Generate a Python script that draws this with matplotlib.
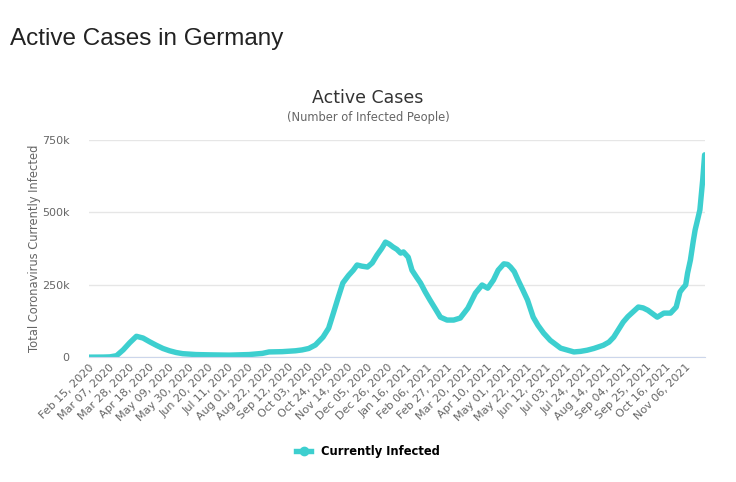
import datetime as dt
import matplotlib
matplotlib.use("Agg")
import matplotlib.pyplot as plt
import matplotlib.dates as mdates
from matplotlib.lines import Line2D
from matplotlib.ticker import FuncFormatter

# values (active cases)
dates = [
    "2020-02-15", "2020-03-01", "2020-03-08", "2020-03-15", "2020-03-22",
    "2020-03-29", "2020-04-05", "2020-04-12", "2020-04-19", "2020-04-26",
    "2020-05-03", "2020-05-10", "2020-05-17", "2020-05-24", "2020-06-07",
    "2020-06-21", "2020-07-12", "2020-08-02", "2020-08-16", "2020-08-23",
    "2020-09-06", "2020-09-20", "2020-09-27", "2020-10-04", "2020-10-11",
    "2020-10-19", "2020-10-25", "2020-10-30", "2020-11-04", "2020-11-09",
    "2020-11-15", "2020-11-20", "2020-11-24", "2020-11-29", "2020-12-05",
    "2020-12-10", "2020-12-15", "2020-12-20", "2020-12-24", "2020-12-28",
    "2021-01-01", "2021-01-05", "2021-01-09", "2021-01-12", "2021-01-17",
    "2021-01-21", "2021-01-26", "2021-01-30", "2021-02-04", "2021-02-09",
    "2021-02-15", "2021-02-20", "2021-02-27", "2021-03-06", "2021-03-13",
    "2021-03-21", "2021-03-29", "2021-04-05", "2021-04-11", "2021-04-17",
    "2021-04-22", "2021-04-28", "2021-05-02", "2021-05-05", "2021-05-09",
    "2021-05-13", "2021-05-18", "2021-05-23", "2021-05-29", "2021-06-03",
    "2021-06-09", "2021-06-16", "2021-06-27", "2021-07-11", "2021-07-18",
    "2021-07-25", "2021-08-01", "2021-08-11", "2021-08-17", "2021-08-22",
    "2021-08-27", "2021-09-01", "2021-09-06", "2021-09-11", "2021-09-17",
    "2021-09-22", "2021-09-27", "2021-10-02", "2021-10-07", "2021-10-14",
    "2021-10-21", "2021-10-27", "2021-10-31", "2021-11-03", "2021-11-06",
    "2021-11-08", "2021-11-11", "2021-11-14", "2021-11-16", "2021-11-19",
    "2021-11-21", "2021-11-24", "2021-11-26",
]
active = [
    0, 300, 1000, 5000, 25000,
    50000, 72000, 66000, 53000, 41000,
    30000, 22000, 16000, 12000, 9000,
    8000, 7000, 9000, 13000, 18000,
    19000, 22000, 25000, 30000, 42000,
    69000, 100000, 152000, 205000, 256000,
    282000, 300000, 318000, 314000, 311000,
    325000, 352000, 375000, 397000, 390000,
    380000, 372000, 359000, 363000, 345000,
    300000, 275000, 256000, 225000, 197000,
    165000, 138000, 128000, 128000, 135000,
    169000, 221000, 249000, 238000, 266000,
    300000, 322000, 320000, 311000, 295000,
    266000, 232000, 197000, 138000, 110000,
    83000, 58000, 31000, 18000, 20000,
    24000, 30000, 41000, 52000, 69000,
    95000, 121000, 140000, 155000, 173000,
    170000, 162000, 150000, 138000, 152000,
    152000, 173000, 225000, 238000, 249000,
    290000, 335000, 400000, 439000, 480000,
    508000, 612000, 698000,
]
series_name = "Currently Infected"

x = [dt.datetime.strptime(d, "%Y-%m-%d") for d in dates]
start = dt.datetime(2020, 2, 15)
tick_dates = [start + dt.timedelta(days=21 * i) for i in range(31)]

fig = plt.figure(figsize=(7.36, 4.82), dpi=100)
ax = fig.add_axes([0.121, 0.259, 0.837, 0.451])

color = "#3dcfcf"
ax.plot(x, active, color=color, lw=3.9, solid_joinstyle="round", solid_capstyle="round")

ax.set_xlim(start, dt.datetime(2021, 11, 26, 12))
ax.set_ylim(0, 750000)
ax.set_yticks([0, 250000, 500000, 750000])
ax.yaxis.set_major_formatter(FuncFormatter(lambda v, p: "0" if v == 0 else f"{int(v / 1000)}k"))
ax.set_xticks(tick_dates)
ax.xaxis.set_major_formatter(mdates.DateFormatter("%b %d, %Y"))

ax.grid(axis="y", color="#e6e6e6", lw=1)
ax.set_axisbelow(True)
for s in ["top", "right", "left"]:
    ax.spines[s].set_visible(False)
ax.spines["bottom"].set_color("#ccd6eb")
ax.tick_params(axis="both", length=0, colors="#666666", labelsize=8)
ax.tick_params(axis="y", pad=14)
for lab in ax.get_xticklabels():
    lab.set_rotation(45)
    lab.set_ha("right")
    lab.set_rotation_mode("anchor")

ax.set_ylabel("Total Coronavirus Currently Infected", fontsize=8.3, color="#666666", labelpad=1)

fig.text(0.013, 0.907, "Active Cases in Germany", fontsize=17.5, color="#222222",
         family="Liberation Sans", va="baseline")
fig.text(0.5, 0.786, "Active Cases", fontsize=12.5, color="#333333", ha="center", va="baseline")
fig.text(0.5, 0.748, "(Number of Infected People)", fontsize=8.3, color="#666666",
         ha="center", va="baseline")

handle = Line2D([0], [0], color=color, lw=3.9, marker="o", markersize=6)
fig.legend(handles=[handle], labels=[series_name], loc="center", bbox_to_anchor=(0.5, 0.063),
           frameon=False, handlelength=1.3, prop={"weight": "bold", "size": 8.3})

fig.savefig("out.png", dpi=100)
